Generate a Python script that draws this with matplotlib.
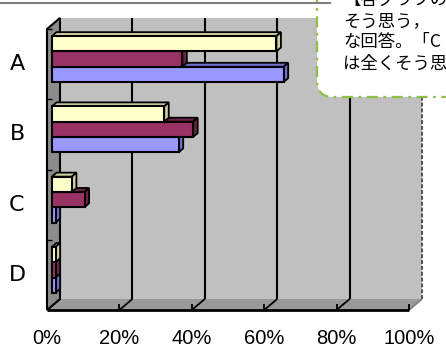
import matplotlib
matplotlib.use("Agg")
import matplotlib.pyplot as plt
from matplotlib.patches import Polygon, FancyBboxPatch

# ---- data -------------------------------------------------------------
categories = ["A", "B", "C", "D"]
series_yellow = [62, 31, 5.5, 1]
series_red = [36, 39, 9, 1]
series_blue = [64, 35, 1, 1]
xticks = [0, 20, 40, 60, 80, 100]
xtick_labels = ["0%", "20%", "40%", "60%", "80%", "100%"]
note_lines = ["【各グラフの", "そう思う，", "な回答。「C", "は全くそう思"]

# ---- figure -----------------------------------------------------------
W, H, DPI = 446, 360, 100
fig = plt.figure(figsize=(W / DPI, H / DPI), dpi=DPI)
fig.patch.set_facecolor("white")

# plane in which the bars' front faces sit (pixels)
PL, PR, PT, PB = 52, 414, 24, 305
ax = fig.add_axes([PL / W, 1 - PB / H, (PR - PL) / W, (PB - PT) / H])
ax.set_xlim(0, 100)
n = len(categories)
ax.set_ylim(n - 0.5, -0.5)
ax.axis("off")
ytop, ybot = -0.5, n - 0.5

FRONT = (-5, -5)   # front edge of the floor / walls
BACK = (8, 6)      # back wall
BAR = (4.5, 4)     # depth of each bar


def px(x, y, dx=0.0, dy=0.0):
    """Data point shifted by (dx, dy) screen pixels, returned in data units."""
    d = ax.transData.transform((x, y))
    return tuple(ax.transData.inverted().transform((d[0] + dx, d[1] + dy)))


def poly(pts, fc, ec="black", lw=1.2, z=1):
    ax.add_patch(Polygon(pts, closed=True, facecolor=fc, edgecolor=ec,
                         linewidth=lw, zorder=z, clip_on=False,
                         joinstyle="miter"))


def seg(p, q, color="black", lw=1.4, z=2, ls="-"):
    ax.plot([p[0], q[0]], [p[1], q[1]], color=color, lw=lw, zorder=z,
            clip_on=False, ls=ls, solid_capstyle="butt")


# back wall
poly([px(0, ytop, *BACK), px(100, ytop, *BACK),
      px(100, ybot, *BACK), px(0, ybot, *BACK)], "#c0c0c0", ec="none", z=1)
for v in xticks[1:-1]:
    seg(px(v, ybot, *BACK), px(v, ytop, *BACK), lw=1.5, z=2)
seg(px(100, ybot, *BACK), px(100, ytop, *BACK), color="#505050", lw=1.4,
    z=2, ls=(0, (2, 1)))

# floor
poly([px(0, ybot, *FRONT), px(100, ybot, *FRONT),
      px(100, ybot, *BACK), px(0, ybot, *BACK)], "#9a9a9a", ec="none", z=1)
for v in xticks:
    c = "#808080" if v == xticks[-1] else "black"
    seg(px(v, ybot, *BACK), px(v, ybot, *FRONT), color=c, lw=1.3, z=2)
    seg(px(v, ybot, *FRONT), px(v, ybot, FRONT[0], FRONT[1] + 6), lw=1.3, z=2)
seg(px(0, ybot, *FRONT), px(100, ybot, *FRONT), lw=2.0, z=3)

# left wall
poly([px(0, ytop, *FRONT), px(0, ybot, *FRONT),
      px(0, ybot, *BACK), px(0, ytop, *BACK)], "#8c8c8c", ec="black",
     lw=1.5, z=3)
for b in [k + 0.5 for k in range(-1, n - 1)]:
    seg(px(0, b, *FRONT), px(0, b, FRONT[0] + 5, FRONT[1]), lw=1.0, z=4)

# bars, drawn bottom-up inside each group so upper bars cover lower tops
h = 0.218
styles = [
    (series_blue, +h, "#9999ff", "#7070cc"),
    (series_red, 0.0, "#993366", "#6e2449"),
    (series_yellow, -h, "#ffffcc", "#cfcfa0"),
]
z = 10
for i in range(n):
    for vals, off, front, shade in styles:
        v = vals[i]
        yc = i + off
        yt, yb = yc - h / 2, yc + h / 2
        poly([(0, yt), (v, yt), px(v, yt, *BAR), px(0, yt, *BAR)],
             shade, lw=1.3, z=z)
        poly([(v, yt), (v, yb), px(v, yb, *BAR), px(v, yt, *BAR)],
             shade, lw=1.3, z=z)
        ax.barh(yc, v, height=h, color=front, edgecolor="black",
                linewidth=1.5, zorder=z + 1, clip_on=False)
        z += 2

# category labels
for i, c in enumerate(categories):
    x, y = px(0, i, 17 - PL, FRONT[1])
    ax.text(x, y, c, ha="center", va="center", fontsize=16,
            family="DejaVu Sans", color="black", clip_on=False)

# percentage labels
for v, lab in zip(xticks, xtick_labels):
    x, y = px(v, ybot, FRONT[0], FRONT[1] - 28)
    ax.text(x, y, lab, ha="center", va="center", fontsize=14.5,
            family="Liberation Sans", color="black", clip_on=False)

# ---- overlay: chart frame edge and note box ---------------------------
ov = fig.add_axes([0, 0, 1, 1], zorder=50)
ov.set_xlim(0, W)
ov.set_ylim(H, 0)
ov.axis("off")
ov.patch.set_alpha(0)
ov.plot([0, 330], [3, 3], color="#808080", lw=1.5)
ov.add_patch(FancyBboxPatch((317, -40), 200, 137,
                            boxstyle="round,pad=0,rounding_size=16",
                            facecolor="white", edgecolor="#8cbf45",
                            linewidth=1.6, linestyle=(0, (5, 2.5, 1.2, 2.5))))
for k, line in enumerate(note_lines):
    ov.text(343, -0.5 + 21.5 * k, line, ha="left", va="center", fontsize=12.5,
            family=["Noto Sans CJK JP", "DejaVu Sans"], color="black")

fig.savefig("out.png", dpi=DPI)
